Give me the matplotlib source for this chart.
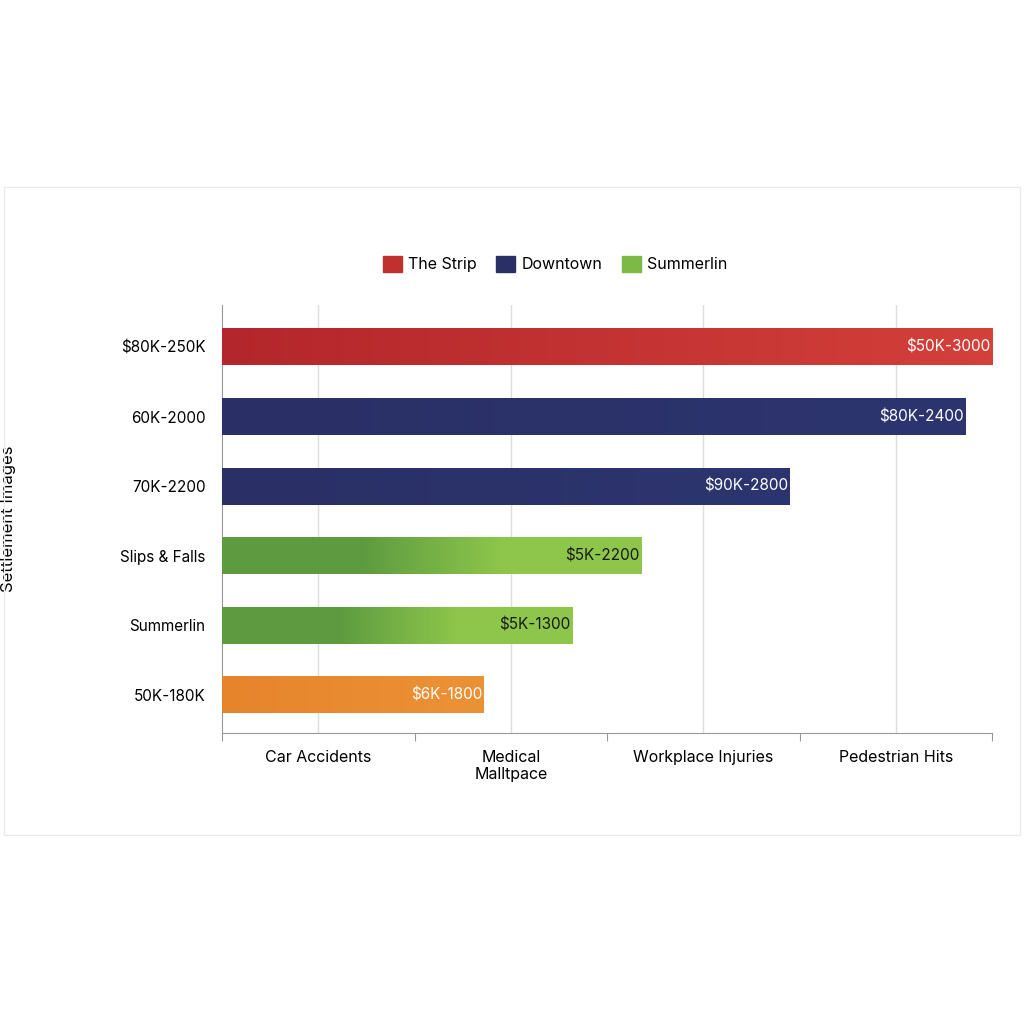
import numpy as np
import matplotlib.pyplot as plt
from matplotlib.patches import Patch, Rectangle
from matplotlib.colors import LinearSegmentedColormap

plt.rcParams['font.family'] = ['Inter', 'DejaVu Sans']

# data
row_labels = ['$80K-250K', '60K-2000', '70K-2200', 'Slips & Falls', 'Summerlin', '50K-180K']
bar_values = [4.0, 3.86, 2.95, 2.18, 1.82, 1.36]
bar_texts = ['$50K-3000', '$80K-2400', '$90K-2800', '$5K-2200', '$5K-1300', '$6K-1800']
bar_groups = ['strip', 'down', 'down', 'summ', 'summ', 'other']
x_categories = ['Car Accidents', 'Medical\nMalltpace', 'Workplace Injuries', 'Pedestrian Hits']

grads = {
    'strip': ('#B3262B', '#D4403A', 'white'),
    'down': ('#2A3065', '#2D3570', 'white'),
    'summ': ('#5E9B40', '#8DC64A', '#1a1a1a'),
    'other': ('#E6842C', '#EC9236', 'white'),
}

fig = plt.figure(figsize=(10.24, 10.24), dpi=100)
fig.patches.append(Rectangle((0.004, 0.185), 0.992, 0.632, transform=fig.transFigure,
                             fill=False, edgecolor='#EBEBEB', linewidth=1))
ax = fig.add_axes([0.217, 0.284, 0.752, 0.418])

y = np.arange(len(row_labels))[::-1]
for yi, v, txt, g in zip(y, bar_values, bar_texts, bar_groups):
    c0, c1, tc = grads[g]
    bar = ax.barh(yi, v, height=0.53, color=c0, zorder=2)[0]
    cmap = LinearSegmentedColormap.from_list('g', [c0, c0, c1, c1] if g == 'summ' else [c0, c1])
    im = ax.imshow(np.linspace(0, 1, 256).reshape(1, -1), cmap=cmap, aspect='auto',
                   extent=[0, v, yi - 0.265, yi + 0.265], zorder=3)
    im.set_clip_path(bar)
    ax.text(v - 0.01, yi, txt, ha='right', va='center', color=tc, fontsize=11, zorder=4)

ax.set_xlim(0, 4)
ax.set_ylim(-0.55, 5.6)
ax.set_yticks(y)
ax.set_yticklabels(row_labels, fontsize=11)
ax.set_xticks([0, 1, 2, 3, 4])
ax.set_xticklabels([])
ax.set_xticks([0.5, 1.5, 2.5, 3.5], minor=True)
ax.set_xticklabels(x_categories, minor=True, fontsize=11.5, va='top')
ax.tick_params(axis='x', which='minor', length=0, pad=12)
ax.tick_params(axis='x', which='major', length=6, color='#999999')
ax.tick_params(axis='y', length=0, pad=12)
ax.grid(axis='x', which='minor', color='#DDDDDD', linewidth=1, zorder=0)
for s in ['top', 'right']:
    ax.spines[s].set_visible(False)
for s in ['left', 'bottom']:
    ax.spines[s].set_color('#999999')
ax.set_ylabel('Settlement Images', fontsize=12, labelpad=75)

handles = [Patch(color='#C0302F', label='The Strip'),
           Patch(color='#2A3065', label='Downtown'),
           Patch(color='#7DB947', label='Summerlin')]
fig.legend(handles=handles, loc='center', bbox_to_anchor=(0.542, 0.742), ncol=3,
           frameon=False, fontsize=11.5, handlelength=1.2, handleheight=1.2,
           columnspacing=1.2, handletextpad=0.4)

fig.savefig('out.png')
